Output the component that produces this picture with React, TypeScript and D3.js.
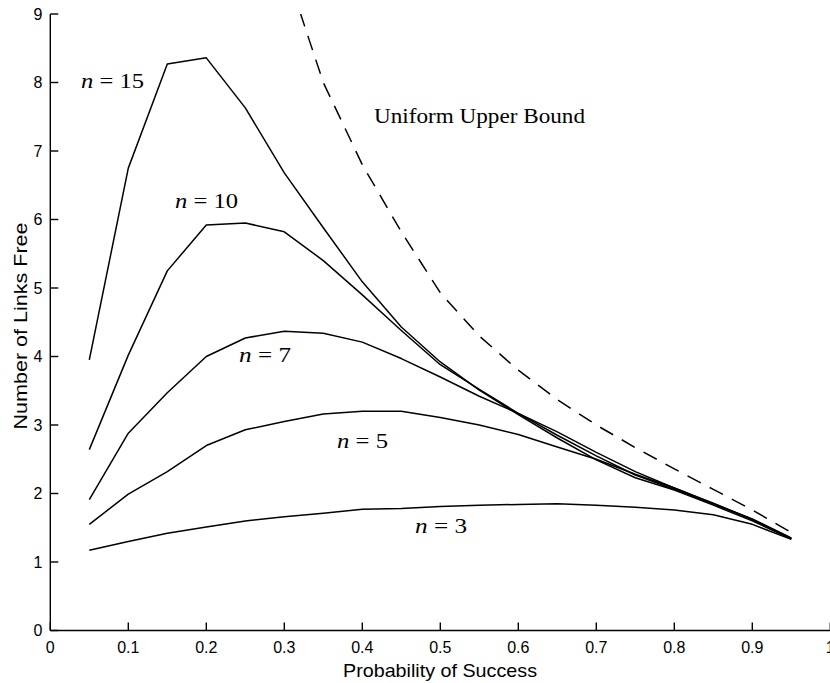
import React from "react";
import * as d3 from "d3";

const probs = [0.05, 0.1, 0.15, 0.2, 0.25, 0.3, 0.35, 0.4, 0.45, 0.5, 0.55, 0.6, 0.65, 0.7, 0.75, 0.8, 0.85, 0.9, 0.95];

const n15 = [3.95, 6.75, 8.27, 8.36, 7.63, 6.68, 5.88, 5.09, 4.43, 3.92, 3.51, 3.15, 2.81, 2.49, 2.23, 2.05, 1.83, 1.6, 1.34];
const n10 = [2.64, 4.02, 5.25, 5.92, 5.95, 5.82, 5.4, 4.9, 4.38, 3.88, 3.52, 3.17, 2.85, 2.55, 2.27, 2.06, 1.85, 1.62, 1.34];
const n7 = [1.91, 2.88, 3.47, 4.0, 4.27, 4.37, 4.34, 4.21, 3.97, 3.7, 3.42, 3.17, 2.9, 2.6, 2.32, 2.08, 1.85, 1.63, 1.35];
const n5 = [1.55, 1.99, 2.32, 2.7, 2.93, 3.05, 3.16, 3.2, 3.2, 3.11, 3.0, 2.86, 2.68, 2.5, 2.28, 2.08, 1.86, 1.62, 1.34];
const n3 = [1.17, 1.3, 1.42, 1.51, 1.6, 1.66, 1.71, 1.77, 1.78, 1.81, 1.83, 1.84, 1.85, 1.83, 1.8, 1.76, 1.69, 1.55, 1.33];

const boundProbs = [0.3, 0.35, 0.4, 0.45, 0.5, 0.55, 0.6, 0.65, 0.7, 0.75, 0.8, 0.85, 0.9, 0.95];
const bound = [9.72, 8.0, 6.8, 5.82, 4.93, 4.3, 3.8, 3.37, 3.0, 2.67, 2.36, 2.06, 1.76, 1.43];

const xTicks = [0, 0.1, 0.2, 0.3, 0.4, 0.5, 0.6, 0.7, 0.8, 0.9, 1];
const yTicks = [0, 1, 2, 3, 4, 5, 6, 7, 8, 9];

const curveLabels = [
  { n: "15", p: 0.0394, v: 7.915, w: 63 },
  { n: "10", p: 0.16, v: 6.164, w: 63 },
  { n: "7", p: 0.242, v: 3.915, w: 52 },
  { n: "5", p: 0.3676, v: 2.669, w: 51 },
  { n: "3", p: 0.4676, v: 1.419, w: 52 },
];

const xLabel = "Probability of Success";
const yLabel = "Number of Links Free";
const boundLabel = "Uniform Upper Bound";

export default function App() {
  const W = 830;
  const H = 683;
  const x = d3.scaleLinear().domain([0, 1]).range([50.3, 830.3]);
  const y = d3.scaleLinear().domain([0, 9]).range([630.5, 14]);

  const line = d3
    .line<[number, number]>()
    .x((d) => x(d[0]))
    .y((d) => y(d[1]));

  const series = [n15, n10, n7, n5, n3];
  const sans = "'Liberation Sans', Arial, Helvetica, sans-serif";
  const serif = "'Liberation Serif', 'Times New Roman', serif";

  return (
    <svg
      width={W}
      height={H}
      style={{ position: "absolute", left: 0, top: 0, background: "#fff" }}
    >
      <defs>
        <clipPath id="plotClip">
          <rect x={x(0)} y={y(9)} width={x(1) - x(0)} height={y(0) - y(9)} />
        </clipPath>
      </defs>

      <g fill="none" stroke="#000" strokeWidth={1.5} strokeLinejoin="round">
        {series.map((s, i) => (
          <path key={i} d={line(probs.map((p, j) => [p, s[j]]) as [number, number][]) || ""} />
        ))}
        <path
          clipPath="url(#plotClip)"
          strokeDasharray="15,10"
          d={line(boundProbs.map((p, j) => [p, bound[j]]) as [number, number][]) || ""}
        />
      </g>

      <g stroke="#000" strokeWidth={1.4} fill="none">
        <line x1={x(0)} x2={x(0)} y1={y(9)} y2={y(0)} />
        <line x1={x(0)} x2={x(1)} y1={y(0)} y2={y(0)} />
        {xTicks.map((t) => (
          <line key={"xt" + t} x1={x(t)} x2={x(t)} y1={y(0)} y2={y(0) - 8} />
        ))}
        {yTicks.map((t) => (
          <line key={"yt" + t} x1={x(0)} x2={x(0) + 8} y1={y(t)} y2={y(t)} />
        ))}
      </g>

      <g fontFamily={sans} fontSize={16} fill="#000">
        {xTicks.map((t) => (
          <text key={"xl" + t} x={x(t)} y={652.5} textAnchor="middle">
            {String(t)}
          </text>
        ))}
        {yTicks.map((t) => (
          <text key={"yl" + t} x={42.5} y={y(t) + 5.5} textAnchor="end">
            {String(t)}
          </text>
        ))}
      </g>

      <text
        x={440}
        y={677}
        textAnchor="middle"
        fontFamily={sans}
        fontSize={19}
        textLength={194}
        lengthAdjust="spacingAndGlyphs"
      >
        {xLabel}
      </text>
      <text
        transform={`translate(27,326) rotate(-90)`}
        textAnchor="middle"
        fontFamily={sans}
        fontSize={19}
        textLength={207}
        lengthAdjust="spacingAndGlyphs"
      >
        {yLabel}
      </text>

      <g fontFamily={serif} fontSize={21} fill="#000">
        {curveLabels.map((c) => (
          <text
            key={c.n}
            x={x(c.p)}
            y={y(c.v)}
            textLength={c.w}
            lengthAdjust="spacingAndGlyphs"
          >
            <tspan fontStyle="italic">n</tspan>
            <tspan>{" = " + c.n}</tspan>
          </text>
        ))}
        <text x={x(0.415)} y={y(7.404)} textLength={211} lengthAdjust="spacingAndGlyphs">
          {boundLabel}
        </text>
      </g>
    </svg>
  );
}
